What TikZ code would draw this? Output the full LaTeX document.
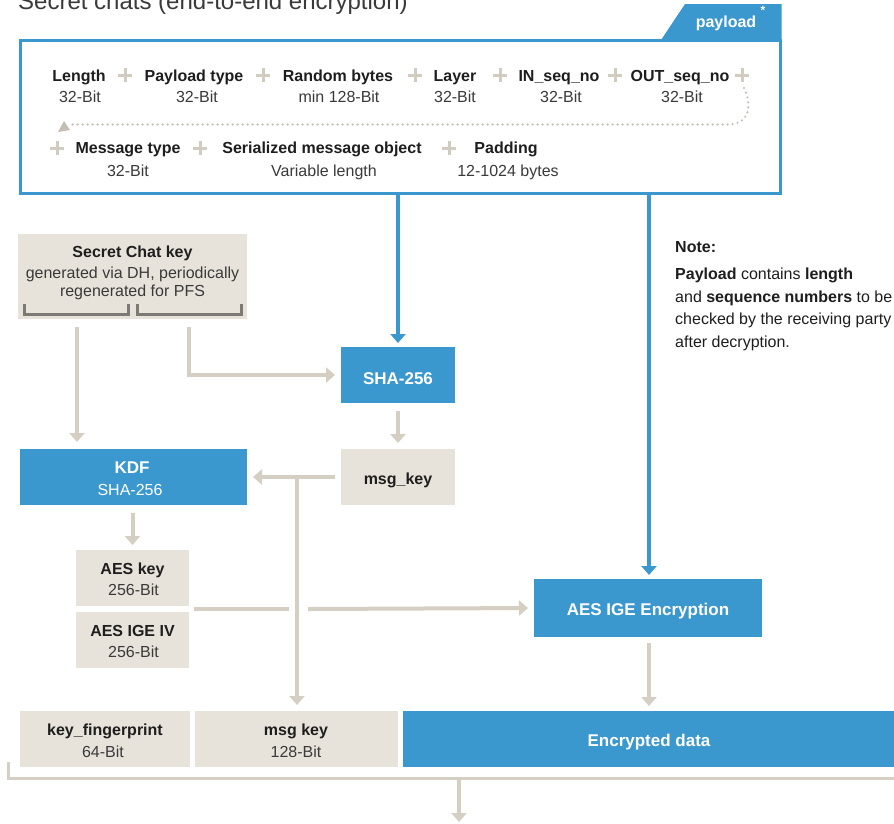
\documentclass[tikz,border=0pt]{standalone}
\usepackage{fontspec}
\setmainfont{Liberation Sans}
\usetikzlibrary{arrows.meta,calc}
\definecolor{blu}{HTML}{3A98CE}
\definecolor{beig}{HTML}{E8E3DA}
\definecolor{arrc}{HTML}{D5CFC3}
\definecolor{plusc}{HTML}{D2CCC0}
\definecolor{dotc}{HTML}{C4BEB2}
\definecolor{txtc}{HTML}{1E1E1E}
\definecolor{subc}{HTML}{3A3A3A}
\definecolor{titc}{HTML}{3A3A3A}
\definecolor{brk}{HTML}{7D7A76}
\begin{document}
\begin{tikzpicture}[x=1pt,y=-1pt,
  garrow/.style={draw=arrc, line width=4pt, -{Triangle[width=15pt,length=9pt]}},
  gline/.style={draw=arrc, line width=4pt},
  barrow/.style={draw=blu, line width=4pt, -{Triangle[width=15pt,length=9pt]}},
  bbox/.style={fill=blu, inner sep=0pt, outer sep=0pt},
  kbox/.style={fill=beig, inner sep=0pt, outer sep=0pt},
  lbl/.style={font=\bfseries\fontsize{16}{19}\selectfont, text=txtc, anchor=base, inner sep=0pt},
  sublbl/.style={font=\fontsize{16}{19}\selectfont, text=subc, anchor=base, inner sep=0pt},
  wlbl/.style={font=\bfseries\fontsize{17}{20}\selectfont, text=white, anchor=base, inner sep=0pt},
  wsub/.style={font=\fontsize{16}{19}\selectfont, text=white, anchor=base, inner sep=0pt},
  notelbl/.style={font=\fontsize{16}{19}\selectfont, text=txtc, anchor=base west, inner sep=0pt},
  plusst/.style={draw=plusc, line width=3pt},
  brkst/.style={draw=brk, line width=3pt}
]
\useasboundingbox (0,0) rectangle (894,823);
\fill[white] (0,0) rectangle (894,823);

% title (cut off at the top)
\node[anchor=base west, font=\fontsize{24}{28}\selectfont, text=titc, inner sep=0pt] (title) at (18,9.5) {Secret chats (end-to-end encryption)};

% payload box
\node[draw=blu, line width=3pt, minimum width=760pt, minimum height=153pt, inner sep=0pt, outer sep=0pt] (payload) at (400,116.5) {};
\fill[blu] (660,41.5) -- (685,4) -- (781.5,4) -- (781.5,41.5) -- cycle;
\node[wlbl, font=\bfseries\fontsize{16}{19}\selectfont] (paylbl) at (726,27) {payload};
\node[font=\bfseries\fontsize{12}{12}\selectfont, text=white, inner sep=0pt] (payast) at (763,10) {*};

% row 1
\node[lbl] (l1) at (79,81) {Length};        \node[sublbl] (s1) at (80,102) {32-Bit};
\node[lbl] (l2) at (194,81) {Payload type}; \node[sublbl] (s2) at (197,102) {32-Bit};
\node[lbl] (l3) at (338,81) {Random bytes}; \node[sublbl] (s3) at (339,102) {min 128-Bit};
\node[lbl] (l4) at (455,81) {Layer};        \node[sublbl] (s4) at (455,102) {32-Bit};
\node[lbl] (l5) at (559,81) {IN\_seq\_no};  \node[sublbl] (s5) at (561,102) {32-Bit};
\node[lbl] (l6) at (680,81) {OUT\_seq\_no}; \node[sublbl] (s6) at (682,102) {32-Bit};
% row 2
\node[lbl] (l7) at (128,153) {Message type};              \node[sublbl] (s7) at (128,176) {32-Bit};
\node[lbl] (l8) at (322,153) {Serialized message object}; \node[sublbl] (s8) at (324,176) {Variable length};
\node[lbl] (l9) at (506,153) {Padding};                   \node[sublbl] (s9) at (508,176) {12-1024 bytes};

\foreach \x/\y in {125/75, 263/75, 415/75, 500/75, 615/75, 742/75, 57/148, 200/148, 449/148}
  \draw[plusst] (\x-7,\y) -- (\x+7,\y) (\x,\y-7) -- (\x,\y+7);

% dotted wrap line
\draw[draw=dotc, line width=2.4pt, line cap=round, dash pattern=on 0pt off 5pt]
  (744,88) .. controls (751,102) and (752,124) .. (728,124.5) -- (72,124.5);
\fill[dotc] (58,132) -- (64,121) -- (70,130) -- cycle;

% secret chat key
\node[kbox, minimum width=229pt, minimum height=85pt] (keybox) at (132.5,276.5) {};
\node[lbl] (kt1) at (132.5,257) {Secret Chat key};
\node[sublbl] (kt2) at (132.5,278) {generated via DH, periodically};
\node[sublbl] (kt3) at (132.5,296) {regenerated for PFS};
\draw[brkst] (24,304) -- (24,314) -- (128,314) -- (128,304);
\draw[brkst] (137,304) -- (137,314) -- (241,314) -- (241,304);

% note
\node[notelbl, font=\bfseries\fontsize{16}{19}\selectfont] (note0) at (675,252) {Note:};
\node[notelbl] (note1) at (675,279) {\textbf{Payload} contains \textbf{length}};
\node[notelbl] (note2) at (675,302) {and \textbf{sequence numbers} to be};
\node[notelbl] (note3) at (675,324) {checked by the receiving party};
\node[notelbl] (note4) at (675,347) {after decryption.};

% SHA-256
\node[bbox, minimum width=114pt, minimum height=56pt] (sha) at (398,375) {};
\node[wlbl] (shat) at (398,384) {SHA-256};

% KDF
\node[bbox, minimum width=227pt, minimum height=56pt] (kdf) at (133.5,477) {};
\node[wlbl] (kdft) at (132,473) {KDF};
\node[wsub] (kdfs) at (130,495) {SHA-256};

% msg_key
\node[kbox, minimum width=114pt, minimum height=56pt] (mk) at (398,477) {};
\node[lbl] (mkt) at (398,484) {msg\_key};

% AES key / IV
\node[kbox, minimum width=113pt, minimum height=56pt] (aeskey) at (132.5,578) {};
\node[lbl] (akt) at (132.5,574) {AES key};
\node[sublbl] (aks) at (133.5,595) {256-Bit};
\node[kbox, minimum width=113pt, minimum height=56pt] (aesiv) at (132.5,640) {};
\node[lbl] (ait) at (132.5,636) {AES IGE IV};
\node[sublbl] (ais) at (133.5,657) {256-Bit};

% AES IGE encryption
\node[bbox, minimum width=228pt, minimum height=58pt] (aesenc) at (648,608) {};
\node[wlbl] (aet) at (648,615) {AES IGE Encryption};

% bottom row
\node[kbox, minimum width=170pt, minimum height=56pt] (fp) at (105,739) {};
\node[lbl] (fpt) at (105,735) {key\_fingerprint};
\node[sublbl] (fps) at (103,757) {64-Bit};
\node[kbox, minimum width=203pt, minimum height=56pt] (mk2) at (296.5,739) {};
\node[lbl] (mk2t) at (296,735) {msg key};
\node[sublbl] (mk2s) at (296,757) {128-Bit};
\node[bbox, minimum width=500pt, minimum height=56pt] (enc) at (653,739) {};
\node[wlbl] (enct) at (649,746) {Encrypted data};

% connectors
\coordinate (c77) at (77,0);
\coordinate (c189) at (189,0);
\coordinate (c297) at (297,0);
\coordinate (c649) at (649,0);
\coordinate (jmp) at (189,609);

\draw[barrow, shorten >=4pt] (payload.south -| sha) -- (sha.north);
\draw[barrow, shorten >=4pt] (payload.south -| c649) -- (aesenc.north -| c649);

\draw[garrow, shorten <=8pt, shorten >=7pt] (keybox.south -| c77) -- (kdf.north -| c77);
\draw[garrow, shorten <=8pt, shorten >=6pt] (keybox.south -| c189) |- (sha.west);
\draw[garrow, shorten <=8pt, shorten >=6pt] (sha.south) -- (mk.north);
\draw[garrow, shorten <=6pt, shorten >=6pt] (mk.west) -- (kdf.east);
\draw[garrow, shorten >=6pt] (mk.west -| c297) -- (mk2.north -| c297);
\draw[garrow, shorten <=8pt, shorten >=5pt] (kdf.south -| aeskey) -- (aeskey.north);
\draw[gline, shorten <=5pt] (jmp) -- (289,609);
\draw[garrow, shorten >=6pt] (308,609) -- (aesenc.west);
\draw[garrow, shorten <=6pt, shorten >=5pt] (aesenc.south -| c649) -- (enc.north -| c649);

% bottom bracket and outgoing arrow
\coordinate (bl) at (8,762);
\coordinate (bout) at (459,778);
\coordinate (bend) at (459,822);
\draw[gline, line width=3pt] (bl) -- (8,778) -- (900,778);
\draw[garrow] (bout) -- (bend);
\end{tikzpicture}
\end{document}
